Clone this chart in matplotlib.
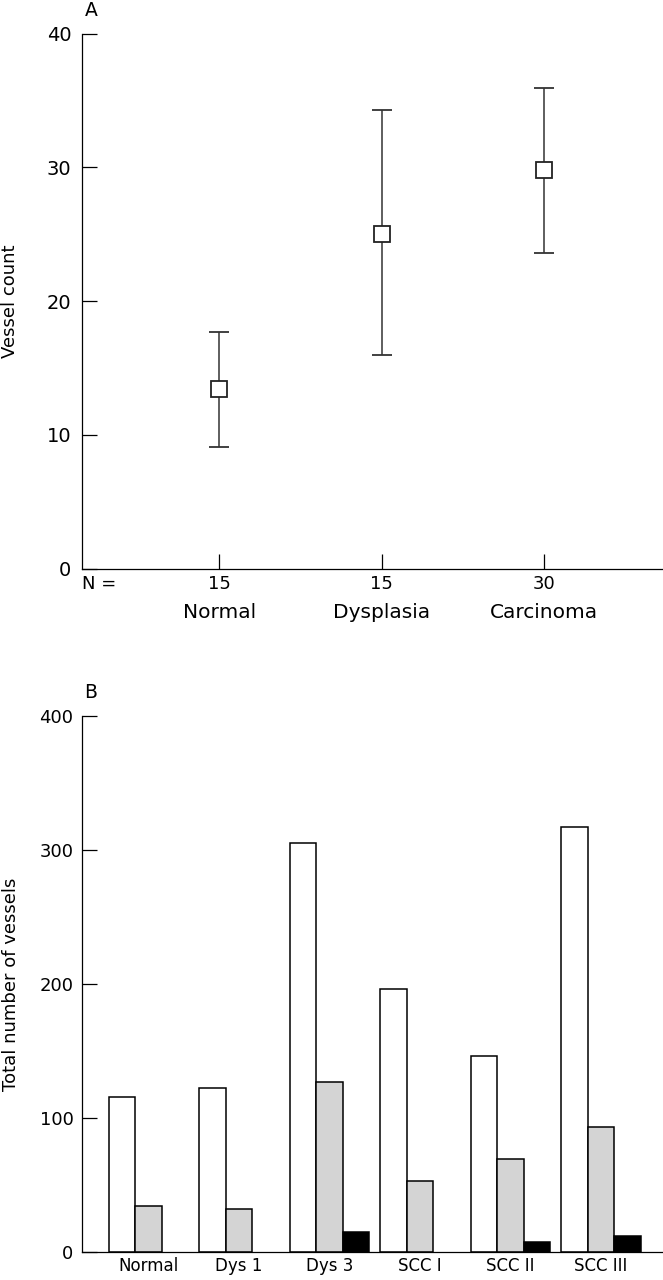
import matplotlib
matplotlib.use("Agg")
import matplotlib.pyplot as plt
import numpy as np

# Panel A data
groups_a = ["Normal", "Dysplasia", "Carcinoma"]
n_a = ["15", "15", "30"]
mean_a = [13.4, 25.0, 29.8]
upper_a = [17.7, 34.3, 35.9]
lower_a = [9.1, 16.0, 23.6]

# Panel B data
groups_b = ["Normal", "Dys 1", "Dys 3", "SCC I", "SCC II", "SCC III"]
white_b = [116, 122, 305, 196, 146, 317]
gray_b = [34, 32, 127, 53, 69, 93]
black_b = [0, 0, 15, 0, 7, 12]

plt.rcParams['font.family'] = ['DejaVu Sans']
LW = 0.9

fig = plt.figure(figsize=(6.63, 12.8), dpi=100)

# ---------- Panel A ----------
axA = fig.add_axes([0.1244, 0.5558, 1 - 0.1244, 0.418])
xa = np.arange(1, len(groups_a) + 1)
mean = np.array(mean_a)
yerr = np.vstack([mean - np.array(lower_a), np.array(upper_a) - mean])
axA.errorbar(xa, mean, yerr=yerr, fmt='s', color='#222222', ecolor='#333333',
             elinewidth=1.1, capsize=7.5, capthick=1.1, markersize=11.5,
             markerfacecolor='white', markeredgecolor='#222222', markeredgewidth=1.3)
axA.set_xlim(0.156, 3.735)
axA.set_ylim(0, 40)
axA.set_yticks([0, 10, 20, 30, 40])
axA.set_xticks(xa)
axA.set_xticklabels([])
axA.tick_params(axis='y', direction='in', length=11, width=LW, labelsize=14, pad=8)
axA.tick_params(axis='x', direction='in', length=11, width=LW)
for s in ['top', 'right']:
    axA.spines[s].set_visible(False)
for s in ['left', 'bottom']:
    axA.spines[s].set_linewidth(LW)
axA.set_ylabel("Vessel count", fontsize=13)
axA.yaxis.set_label_coords(-0.1094, 0.5)
for x, n, g in zip(xa, n_a, groups_a):
    axA.annotate(n, xy=(x, 0), xycoords=('data', 'axes fraction'),
                 xytext=(0, -11.3), textcoords='offset points',
                 ha='center', va='center', fontsize=13)
    axA.annotate(g, xy=(x, 0), xycoords=('data', 'axes fraction'),
                 xytext=(0, -31.5), textcoords='offset points',
                 ha='center', va='center', fontsize=14.5)
axA.annotate("N =", xy=(0, 0), xycoords='axes fraction',
             xytext=(0, -11.3), textcoords='offset points',
             ha='left', va='center', fontsize=13)
fig.text(85 / 663, 1 - 10 / 1280, "A", ha='left', va='center', fontsize=13.5)

# ---------- Panel B ----------
axB = fig.add_axes([0.1244, 0.022, 1 - 0.1244, 0.4184])
xb = np.arange(len(groups_b))
w = 0.294
axB.bar(xb - w, white_b, width=w, color='white', edgecolor='black', linewidth=1.1)
axB.bar(xb, gray_b, width=w, color='#d4d4d4', edgecolor='black', linewidth=1.1)
blk = np.array(black_b)
nz = blk > 0
axB.bar(xb[nz] + w, blk[nz], width=w, color='black', edgecolor='black', linewidth=1.1)
axB.set_xlim(-0.730, 5.685)
axB.set_ylim(0, 400)
axB.set_yticks([0, 100, 200, 300, 400])
axB.set_xticks(xb)
axB.set_xticklabels([])
axB.tick_params(axis='y', direction='in', length=11, width=LW, labelsize=13, pad=6.5)
axB.tick_params(axis='x', length=0)
for s in ['top', 'right']:
    axB.spines[s].set_visible(False)
for s in ['left', 'bottom']:
    axB.spines[s].set_linewidth(LW)
axB.set_ylabel("Total number of vessels", fontsize=13)
axB.yaxis.set_label_coords(-0.108, 0.5)
for x, g in zip(xb, groups_b):
    axB.annotate(g, xy=(x, 0), xycoords=('data', 'axes fraction'),
                 xytext=(0, -10.5), textcoords='offset points',
                 ha='center', va='center', fontsize=12)
fig.text(84 / 663, 1 - 693 / 1280, "B", ha='left', va='center', fontsize=13.5)

fig.savefig("out.png", dpi=100)
